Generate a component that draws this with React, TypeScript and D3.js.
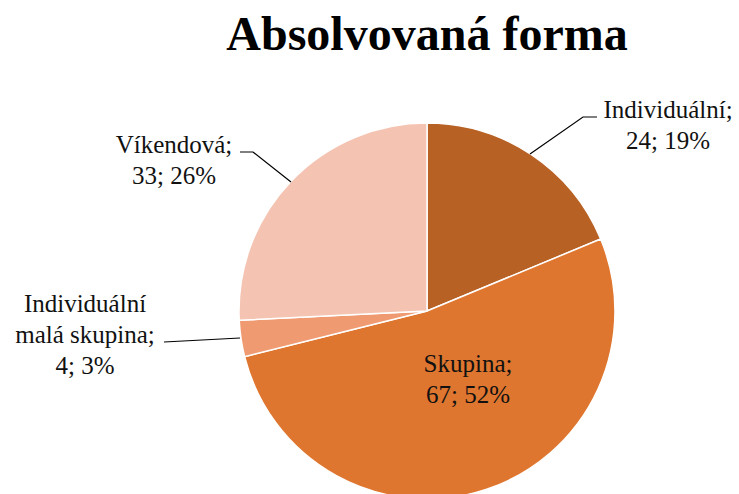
import React from "react";
import * as d3 from "d3";

const categories = ["Individuální", "Skupina", "Individuální malá skupina", "Víkendová"];
const values = [24, 67, 4, 33];
const colors = ["#B86125", "#DF762F", "#EF9A70", "#F4C3B1"];
const labelLines = [
  ["Individuální;", "24; 19%"],
  ["Skupina;", "67; 52%"],
  ["Individuální", "malá skupina;", "4; 3%"],
  ["Víkendová;", "33; 26%"],
];
const title = "Absolvovaná forma";

const W = 739, H = 494;
const cx = 427, cy = 311, R = 188;
const FONT = "'Liberation Serif', 'Times New Roman', 'DejaVu Serif', serif";

const labelPos = [
  { x: 668, y: 118, line: [[597, 117], [583, 117], [530, 154]] },
  { x: 468, y: 372, line: null },
  { x: 85, y: 312, line: [[164, 342], [240, 338]] },
  { x: 174, y: 153, line: [[240, 152], [253, 152], [291, 182]] },
];

export default function App() {
  const pie = d3.pie<number>().sort(null).value((d) => d)(values);
  const arc = d3.arc<d3.PieArcDatum<number>>().innerRadius(0).outerRadius(R);
  return (
    <svg width={W} height={H} style={{ display: "block", position: "absolute", left: 0, top: 0 }}>
      <rect width={W} height={H} fill="#fff" />
      <text x={cx} y={50} textAnchor="middle" style={{ fontFamily: FONT }} fontWeight="bold" fontSize={48}>
        {title}
      </text>
      <g transform={`translate(${cx},${cy})`}>
        {pie.map((p, i) => (
          <path key={i} d={arc(p) || ""} fill={colors[i]} stroke="#fff" strokeWidth={1.5} />
        ))}
      </g>
      {pie.map((p, i) => {
        const lp = labelPos[i];
        return (
          <g key={i}>
            {lp.line && (
              <polyline points={lp.line.map((q) => q.join(",")).join(" ")} fill="none" stroke="#000" strokeWidth={1.2} />
            )}
            <text textAnchor="middle" style={{ fontFamily: FONT }} fontSize={25} fill="#111">
              {labelLines[i].map((t, j) => (
                <tspan key={j} x={lp.x} y={lp.y + j * 31}>
                  {t}
                </tspan>
              ))}
            </text>
          </g>
        );
      })}
    </svg>
  );
}
